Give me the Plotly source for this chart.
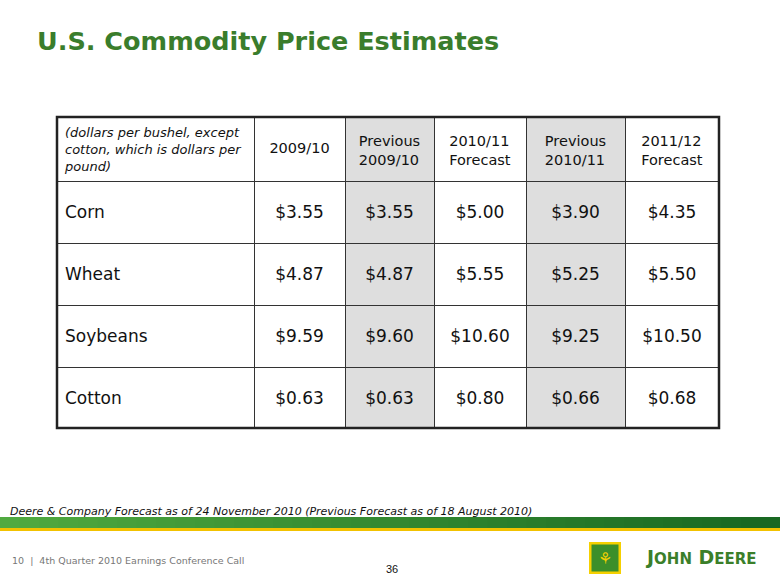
import plotly.graph_objects as go

# table contents
label_head = "<i>(dollars per bushel, except<br>cotton, which is dollars per<br>pound)</i>"
col_heads = ["2009/10", "Previous<br>2009/10", "2010/11<br>Forecast",
             "Previous<br>2010/11", "2011/12<br>Forecast"]
crops = ["Corn", "Wheat", "Soybeans", "Cotton"]
y2009_10 = ["$3.55", "$4.87", "$9.59", "$0.63"]
prev_2009_10 = ["$3.55", "$4.87", "$9.60", "$0.63"]
fc_2010_11 = ["$5.00", "$5.55", "$10.60", "$0.80"]
prev_2010_11 = ["$3.90", "$5.25", "$9.25", "$0.66"]
fc_2011_12 = ["$4.35", "$5.50", "$10.50", "$0.68"]

W, H = 780, 585
GREEN = "#3a7d2c"
GRAY = "#dedede"
col_fill = ["white", "white", GRAY, "white", GRAY, "white"]
col_w = [197, 91, 89, 92, 99, 94]
aligns = ["left"] + ["center"] * 5


def px(x):
    return x / W


def py(y):
    return 1 - y / H


x0, x1 = 57, 719
y0, y1 = 117, 428
blank4 = [""] * 4


def text_table(dy, head_vals, cell_vals):
    # transparent table used only to place text lower in the cells
    return go.Table(
        domain=dict(x=[px(x0), px(x1)], y=[py(y1 + dy), py(y0 + dy)]),
        columnwidth=col_w,
        header=dict(values=head_vals, fill_color="rgba(0,0,0,0)",
                    line=dict(color="rgba(0,0,0,0)", width=1), align=aligns,
                    font=dict(family="DejaVu Sans", size=14.5, color="#111111"), height=63),
        cells=dict(values=cell_vals, fill_color="rgba(0,0,0,0)",
                   line=dict(color="rgba(0,0,0,0)", width=1), align=aligns,
                   font=dict(family="DejaVu Sans", size=17, color="#111111"), height=62),
    )


grid = go.Table(
    domain=dict(x=[px(x0), px(x1)], y=[py(y1), py(y0)]),
    columnwidth=col_w,
    header=dict(values=[label_head, "", "", "", "", ""],
                fill_color=col_fill,
                line=dict(color="#333333", width=1),
                align=aligns,
                font=dict(family="DejaVu Sans", size=13, color="#111111"),
                height=63),
    cells=dict(values=[blank4] * 6,
               fill_color=col_fill,
               line=dict(color="#333333", width=1),
               align=aligns,
               height=62),
)

fig = go.Figure([
    grid,
    text_table(8, ["", ""] + col_heads[1:], [blank4] * 6),
    text_table(17, ["", col_heads[0], "", "", "", ""],
               [crops, y2009_10, prev_2009_10, fc_2010_11, prev_2010_11, fc_2011_12]),
])

shapes = [dict(type="rect", xref="paper", yref="paper",
               x0=px(x0), x1=px(x1), y0=py(y1), y1=py(y0),
               line=dict(color="#222222", width=2.5))]

# green banner with gradient and a yellow stripe under it
n = 40
c_start = (80, 170, 64)
c_end = (24, 104, 34)
for i in range(n):
    t = i / (n - 1)
    c = tuple(int(c_start[k] + (c_end[k] - c_start[k]) * t) for k in range(3))
    shapes.append(dict(type="rect", xref="paper", yref="paper",
                       x0=px(i * W / n), x1=px((i + 1) * W / n + 1),
                       y0=py(528), y1=py(517),
                       fillcolor="rgb(%d,%d,%d)" % c, line=dict(width=0)))
shapes.append(dict(type="rect", xref="paper", yref="paper",
                   x0=px(0), x1=px(W), y0=py(531), y1=py(528),
                   fillcolor="#f2c200", line=dict(width=0)))

# logo badge
shapes.append(dict(type="rect", xref="paper", yref="paper",
                   x0=px(589), x1=px(621), y0=py(574), y1=py(542),
                   fillcolor="#f5d000", line=dict(width=0)))
shapes.append(dict(type="rect", xref="paper", yref="paper",
                   x0=px(591.5), x1=px(618.5), y0=py(571.5), y1=py(544.5),
                   fillcolor="#3b8f2a", line=dict(width=0)))

annotations = [
    dict(text="<b>U.S. Commodity Price Estimates</b>", x=px(35), y=py(41),
         xanchor="left", yanchor="middle", showarrow=False,
         font=dict(family="DejaVu Sans", size=25.5, color=GREEN)),
    dict(text="<i>Deere & Company Forecast as of 24 November 2010 (Previous Forecast as of 18 August 2010)</i>",
         x=px(8), y=py(511), xanchor="left", yanchor="middle", showarrow=False,
         font=dict(family="DejaVu Sans", size=11, color="#111111")),
    dict(text="10  |  4th Quarter 2010 Earnings Conference Call", x=px(10), y=py(560),
         xanchor="left", yanchor="middle", showarrow=False,
         font=dict(family="DejaVu Sans", size=9.5, color="#777777")),
    dict(text="36", x=px(392), y=py(569), xanchor="center", yanchor="middle", showarrow=False,
         font=dict(family="Liberation Sans", size=11, color="#111111")),
    dict(text="<b>J<span style='font-size:15px'>OHN</span> D<span style='font-size:15px'>EERE</span></b>",
         x=px(643), y=py(557), xanchor="left", yanchor="middle", showarrow=False,
         font=dict(family="DejaVu Sans", size=19, color="#3b7f2a")),
    dict(text="<b>⚘</b>", x=px(605), y=py(558), xanchor="center", yanchor="middle",
         showarrow=False, font=dict(family="DejaVu Sans", size=16, color="#f5d000")),
]

fig.update_layout(width=W, height=H, margin=dict(l=0, r=0, t=0, b=0),
                  paper_bgcolor="white", plot_bgcolor="white",
                  shapes=shapes, annotations=annotations)

fig.write_html("out.html", config={"displayModeBar": False},
               post_script="document.body.style.margin='0';")
